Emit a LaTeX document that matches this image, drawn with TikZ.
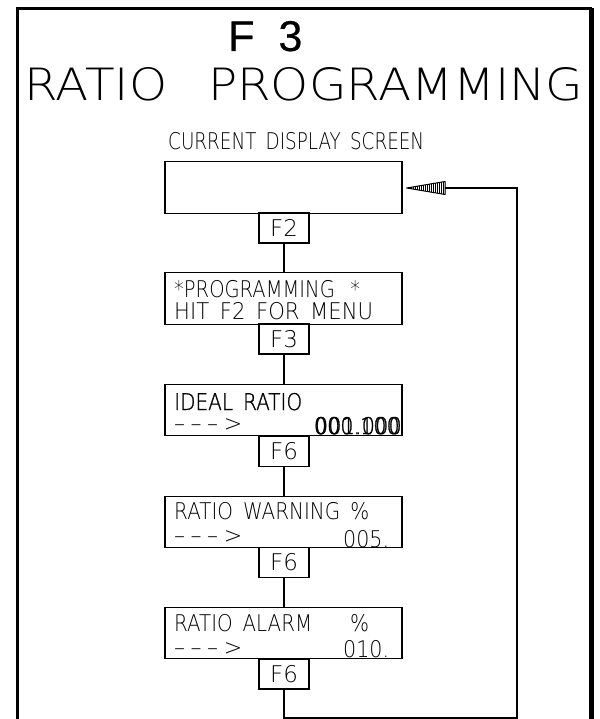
\documentclass[tikz,border=0pt]{standalone}
\usepackage{fontspec}
\usepackage{graphicx}
\IfFontExistsTF{DejaVu Sans ExtraLight}{%
  \newfontfamily\cadfont{DejaVu Sans ExtraLight}%
  \newfontfamily\cadbfont{DejaVu Sans ExtraLight}[FakeBold=1.2]%
}{%
  \newfontfamily\cadfont{DejaVu Sans}%
  \newfontfamily\cadbfont{DejaVu Sans}%
}
\newfontfamily\headfont{Liberation Sans}[FakeBold=0.5]
\newcommand\cad{\cadfont\fontsize{23}{27}\selectfont}
\newcommand\cadb{\cadbfont\fontsize{23}{27}\selectfont}
\newcommand\wsp{\hspace{0.5em}}
\newcommand\tx[2]{\resizebox{#1}{\height}{\cad #2}}
\newcommand\txb[2]{\resizebox{#1}{\height}{\cadb #2}}
\newcommand\arr{\textendash\hspace{0.25em}\textendash\hspace{0.25em}\textendash\hspace{0.25em}>}
\begin{document}
\begin{tikzpicture}[x=1pt,y=-1pt,
  screen/.style={draw, line width=1.3pt, minimum width=237pt, minimum height=51.5pt, inner sep=0pt},
  keybox/.style={draw, line width=1.3pt, minimum width=50pt, minimum height=30pt, inner sep=0pt, font=\cad},
  lbl/.style={anchor=base west, inner sep=0pt},
  lblr/.style={anchor=base east, inner sep=0pt},
  wire/.style={line width=1.1pt},
  frame/.style={line width=3pt}]
\useasboundingbox (0,0) rectangle (599,719);
% frame
\coordinate (fbl) at (17.5,719);
\coordinate (ftl) at (17.5,8.5);
\coordinate (ftr) at (591.5,8.5);
\coordinate (fbr) at (591.5,719);
\draw[frame] (fbl) -- (ftl) -- (ftr);
\draw[line width=5pt] (ftr) -- (fbr);
% titles
\node[lbl] (tF) at (228,51) {\headfont\fontsize{43}{44}\selectfont F\hspace{24pt}3};
\node[lbl] (ttitle) at (24,101) {\resizebox{559pt}{33pt}{\cadfont RATIO\hspace{0.84em}PROGRAMMING}};
\node[lbl] (tcur) at (168,150) {\tx{256pt}{CURRENT\wsp DISPLAY\wsp SCREEN}};
% boxes
\node[screen] (b1) at (283.5,187.5) {};
\node[keybox] (k1) at (284,228) {F2};
\node[screen] (b2) at (283.5,298.5) {};
\node[keybox] (k2) at (284,339) {F3};
\node[screen] (b3) at (283.5,410) {};
\node[keybox] (k3) at (284,451.5) {F6};
\node[screen] (b4) at (283.5,522) {};
\node[keybox] (k4) at (284,562.5) {F6};
\node[screen] (b5) at (283.5,633) {};
\node[keybox] (k5) at (284,674) {F6};
% connectors
\draw[wire] (k1.south) -- (k1.south |- b2.north);
\draw[wire] (k2.south) -- (k2.south |- b3.north);
\draw[wire] (k3.south) -- (k3.south |- b4.north);
\draw[wire] (k4.south) -- (k4.south |- b5.north);
\coordinate (c1) at (284,718);
\coordinate (c2) at (517,718);
\coordinate (c3) at (517,188);
\coordinate (ab) at (445,188);
\coordinate (tip) at (406.7,188);
\draw[wire] (k5.south) -- (c1) -- (c2) -- (c3) -- (ab);
\begin{scope}
\clip (tip) -- (445,181.5) -- (445,194.5) -- cycle;
\foreach \x in {407,409,...,445} \draw[line width=0.9pt] (\x,175) -- (\x,200);
\end{scope}
\draw[line width=1pt, line join=round] (tip) -- (445,181.5) -- (445,194.5) -- cycle;
% box texts
\node[lbl] (tp1) at (174,297) {\tx{186pt}{*PROGRAMMING\hspace{0.8em}*}};
\node[lbl] (tp2) at (174,319) {\tx{199pt}{HIT\wsp F2\wsp FOR\wsp MENU}};
\node[lbl] (ti1) at (174,410) {\txb{128pt}{IDEAL\wsp RATIO}};
\node[lbl] (ti2) at (174,431) {\tx{68pt}{\arr}};
\node[lblr] (ti3) at (402,434) {\txb{87pt}{001.000}};
\node[lblr] (ti4) at (400,434) {\txb{86pt}{000.100}};
\node[lbl] (tw1) at (174,519) {\tx{195pt}{RATIO\wsp WARNING\wsp \%}};
\node[lbl] (tw2) at (174,543) {\tx{68pt}{\arr}};
\node[lbl] (tw3) at (343,547) {\tx{46pt}{005.}};
\node[lbl] (ta1) at (174,631) {\tx{138pt}{RATIO\wsp ALARM}};
\node[lbl] (ta1b) at (350,631) {\tx{19pt}{\%}};
\node[lbl] (ta2) at (174,655) {\tx{68pt}{\arr}};
\node[lbl] (ta3) at (343,657) {\tx{46pt}{010.}};
\end{tikzpicture}
\end{document}
